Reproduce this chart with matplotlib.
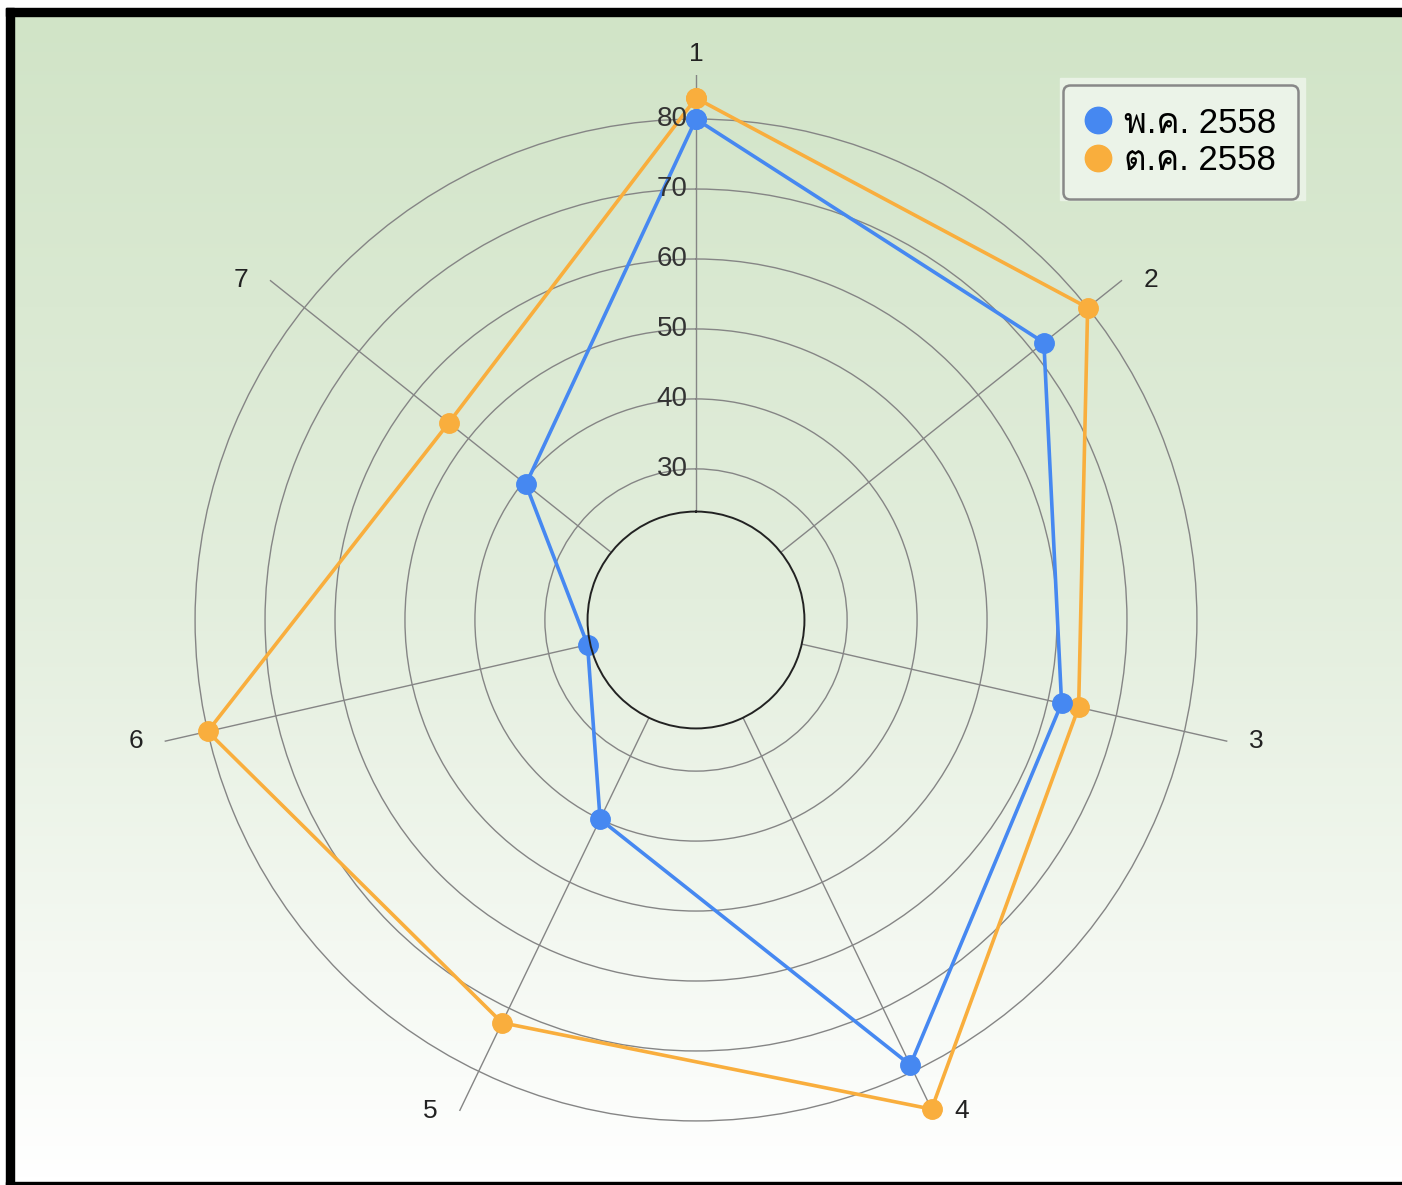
import numpy as np
import matplotlib
matplotlib.use('Agg')
import matplotlib.pyplot as plt
from matplotlib import font_manager
from matplotlib.ft2font import FT2Font
from matplotlib.lines import Line2D
from matplotlib.patches import Rectangle
from matplotlib.colors import LinearSegmentedColormap

axis_labels = ['1', '2', '3', '4', '5', '6', '7']
may_2558 = [80, 72, 62, 79, 40, 24.3, 39.5]
oct_2558 = [83, 80, 64.5, 86, 72.3, 80, 53.6]
series_names = ['พ.ค. 2558', 'ต.ค. 2558']
ring_values = [30, 40, 50, 60, 70, 80]

BLUE = '#4688f1'
ORANGE = '#f9ae3d'
W, H = 1402, 1185


def find_thai_font():
    for f in font_manager.fontManager.ttflist:
        try:
            if ord('พ') in FT2Font(f.fname).get_charmap():
                return f.name
        except Exception:
            pass
    return None


thai = find_thai_font()
families = ['Liberation Sans'] + ([thai] if thai else []) + ['DejaVu Sans']
plt.rcParams['font.family'] = families

fig = plt.figure(figsize=(W / 100, H / 100), dpi=100)

# background: gradient and black frame
bg = fig.add_axes([0, 0, 1, 1], zorder=-10)
bg.set_xlim(0, W)
bg.set_ylim(H, 0)
bg.axis('off')
cmap = LinearSegmentedColormap.from_list('bg', ['#d1e4c7', '#e3eedd', '#ffffff'])
grad = np.linspace(0, 1, 256).reshape(-1, 1)
bg.imshow(grad, cmap=cmap, extent=(14, W, 1182, 16), aspect='auto')
bg.add_patch(Rectangle((6, 8), 8, H - 8, color='black'))
bg.add_patch(Rectangle((6, 8), W - 6, 8, color='black'))
bg.add_patch(Rectangle((6, 1182), W - 6, 3, color='black'))
# pale block the legend sits on
bg.add_patch(Rectangle((1060, 78), 245, 122, color='#e9f2e5'))

# radar
cx, cy, R = 696, 620, 545
ax = fig.add_axes([(cx - R) / W, (H - cy - R) / H, 2 * R / W, 2 * R / H],
                  projection='polar')
ax.set_facecolor('none')
ax.set_theta_zero_location('N')
ax.set_theta_direction(-1)
ax.set_rorigin(8.4)
ax.set_ylim(23.9, 86.3)
rmax = ax.get_ylim()[1]

angles = np.linspace(0, 2 * np.pi, len(axis_labels), endpoint=False)
ax.set_xticks(angles)
ax.set_xticklabels([])
ax.set_yticks(ring_values)
ax.set_yticklabels([])
ax.grid(True, color='#858585', linewidth=1.0)
ax.spines['polar'].set_visible(False)
ax.spines['inner'].set_color('#222222')
ax.spines['inner'].set_linewidth(1.4)
ax.tick_params(length=0)

# point labels sit beside the spoke ends, chart.js style
for a, lab in zip(angles, axis_labels):
    s = np.sin(a)
    if abs(s) < 0.05:
        off = (0, 15)
    else:
        off = (np.sign(s) * 21, 0)
    ax.annotate(lab, (a, rmax), xytext=off, textcoords='offset points',
                ha='center', va='center', fontsize=19, color='#222222',
                annotation_clip=False)

for v in ring_values:
    ax.annotate(str(v), (0, v), xytext=(-6, 0), textcoords='offset points',
                ha='right', va='center', fontsize=20, color='#333333')

th = np.append(angles, angles[0])
for vals, c in ((oct_2558, ORANGE), (may_2558, BLUE)):
    r = np.append(vals, vals[0])
    ax.plot(th, r, color=c, linewidth=2.6, marker='o', markersize=14,
            clip_on=False)

handles = [Line2D([], [], linestyle='none', marker='o', markersize=19,
                  color=c) for c in (BLUE, ORANGE)]
leg = fig.legend(handles, series_names, loc='upper right',
                 bbox_to_anchor=(1298 / W, 1 - 85 / H), borderaxespad=0,
                 fontsize=25, handlelength=0.8, handletextpad=0.35,
                 labelspacing=0.14, borderpad=0.62, frameon=True,
                 fancybox=True, facecolor='#ebf3e8', edgecolor='#888888',
                 framealpha=1)
leg.get_frame().set_linewidth(1.8)

fig.savefig('out.png', dpi=100)
